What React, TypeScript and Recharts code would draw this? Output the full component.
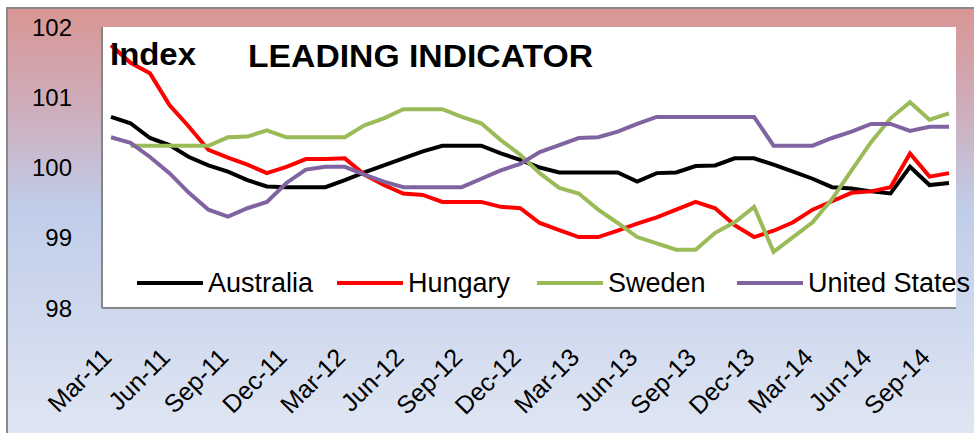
import { LineChart, Line, XAxis, YAxis, CartesianGrid, Legend } from "recharts";

const FONT = '"Liberation Sans", Arial, sans-serif';

const months = [
  "Mar-11", "Apr-11", "May-11", "Jun-11", "Jul-11", "Aug-11", "Sep-11", "Oct-11", "Nov-11", "Dec-11",
  "Jan-12", "Feb-12", "Mar-12", "Apr-12", "May-12", "Jun-12", "Jul-12", "Aug-12", "Sep-12", "Oct-12",
  "Nov-12", "Dec-12", "Jan-13", "Feb-13", "Mar-13", "Apr-13", "May-13", "Jun-13", "Jul-13", "Aug-13",
  "Sep-13", "Oct-13", "Nov-13", "Dec-13", "Jan-14", "Feb-14", "Mar-14", "Apr-14", "May-14", "Jun-14",
  "Jul-14", "Aug-14", "Sep-14", "Oct-14",
];

const australia = [
  100.72, 100.63, 100.42, 100.32, 100.15, 100.03, 99.94, 99.82, 99.73, 99.72,
  99.72, 99.72, 99.82, 99.93, 100.03, 100.13, 100.23, 100.31, 100.31, 100.31,
  100.2, 100.11, 100.0, 99.93, 99.93, 99.93, 99.93, 99.8, 99.92, 99.93,
  100.02, 100.03, 100.13, 100.13, 100.04, 99.94, 99.84, 99.72, 99.7, 99.66,
  99.63, 100.01, 99.75, 99.78,
];

const hungary = [
  101.74, 101.49, 101.34, 100.89, 100.58, 100.25, 100.14, 100.04, 99.92, 100.01,
  100.12, 100.12, 100.13, 99.9, 99.75, 99.63, 99.61, 99.51, 99.51, 99.51,
  99.44, 99.42, 99.21, 99.11, 99.01, 99.01, 99.1, 99.2, 99.29, 99.4,
  99.51, 99.42, 99.18, 99.01, 99.1, 99.22, 99.4, 99.52, 99.64, 99.66,
  99.72, 100.2, 99.87, 99.92,
];

const sweden = [
  null, 100.31, 100.31, 100.31, 100.31, 100.31, 100.43, 100.44, 100.53, 100.43,
  100.43, 100.43, 100.43, 100.6, 100.7, 100.83, 100.83, 100.83, 100.72, 100.63,
  100.39, 100.18, 99.92, 99.71, 99.63, 99.4, 99.21, 99.01, 98.92, 98.83,
  98.83, 99.07, 99.22, 99.44, 98.8, 99.01, 99.22, 99.55, 99.96, 100.36,
  100.7, 100.93, 100.68, 100.77,
];

const unitedStates = [
  100.43, 100.35, 100.15, 99.92, 99.64, 99.4, 99.3, 99.42, 99.51, 99.78,
  99.97, 100.01, 100.01, 99.9, 99.8, 99.72, 99.72, 99.72, 99.72, 99.84,
  99.96, 100.05, 100.22, 100.32, 100.42, 100.43, 100.51, 100.62, 100.72, 100.72,
  100.72, 100.72, 100.72, 100.72, 100.31, 100.31, 100.31, 100.42, 100.51, 100.62,
  100.62, 100.52, 100.58, 100.58,
];

const yTicks = [98, 99, 100, 101, 102];

const SERIES = [
  { key: "australia", name: "Australia", color: "#000000" },
  { key: "hungary", name: "Hungary", color: "#ff0000" },
  { key: "sweden", name: "Sweden", color: "#9bbb59" },
  { key: "us", name: "United States", color: "#8064a2" },
];

const rows = months.map((m, i) => ({
  month: m,
  australia: australia[i],
  hungary: hungary[i],
  sweden: sweden[i],
  us: unitedStates[i],
}));

function MonthTick(props: any) {
  const { x, y, payload } = props;
  return (
    <g transform={`translate(${x + 2},${y + 51})`}>
      <text textAnchor="end" transform="rotate(-45)" fontSize={25} fill="#000" fontFamily={FONT}>
        {payload.value}
      </text>
    </g>
  );
}

function LegendRow(props: any) {
  const items = props.payload || [];
  return (
    <div style={{ position: "relative", width: 974, height: 40, fontFamily: FONT }}>
      {items.map((it: any, i: number) => (
        <div
          key={it.value}
          style={{ position: "absolute", left: 137 + i * 200, top: 0, height: 40, display: "flex", alignItems: "center" }}
        >
          <div style={{ width: 66, height: 4, background: it.color, marginRight: 5 }} />
          <span style={{ fontSize: 27, color: "#000", whiteSpace: "nowrap" }}>{it.value}</span>
        </div>
      ))}
    </div>
  );
}

export default function App() {
  return (
    <div style={{ position: "absolute", left: 0, top: 0, width: 974, height: 433, background: "#fff", overflow: "hidden" }}>
      <div
        style={{
          position: "absolute", left: 6, top: 7, width: 968, height: 426, boxSizing: "border-box",
          borderLeft: "2px solid #8a8a8a", borderTop: "2px solid #8a8a8a",
          background: "linear-gradient(to bottom, #d99694 0%, #cdb0c0 26%, #c0cde9 47%, #dfe6f3 100%)",
        }}
      />
      <div style={{ position: "absolute", left: 0, top: 0 }}>
        <LineChart width={974} height={433} data={rows} margin={{ top: 27, right: 18, bottom: 25, left: 42 }}>
          <CartesianGrid horizontal={false} vertical={false} fill="#ffffff" />
          <XAxis
            dataKey="month"
            interval={2}
            height={100}
            padding={{ left: 9, right: 7 }}
            tick={<MonthTick />}
            tickLine={false}
            tickSize={0}
            tickMargin={0}
            axisLine={{ stroke: "#868686", strokeWidth: 2 }}
          />
          <YAxis
            domain={[98, 102]}
            ticks={yTicks}
            width={60}
            tickLine={false}
            tickSize={0}
            tickMargin={30}
            axisLine={{ stroke: "#868686", strokeWidth: 2 }}
            tick={{ fontSize: 24, fill: "#000", fontFamily: FONT }}
          />
          <Legend
            layout="horizontal"
            verticalAlign="middle"
            align="center"
            content={<LegendRow />}
            wrapperStyle={{ position: "absolute", left: 0, top: 263, width: 974, height: 40 }}
          />
          {SERIES.map((s) => (
            <Line
              key={s.key}
              type="linear"
              dataKey={s.key}
              name={s.name}
              stroke={s.color}
              strokeWidth={4}
              dot={false}
              activeDot={false}
              isAnimationActive={false}
            />
          ))}
        </LineChart>
      </div>
      <svg width={974} height={433} style={{ position: "absolute", left: 0, top: 0, pointerEvents: "none" }}>
        <text x={110} y={65} fontSize={32} fontWeight="bold" fontFamily={FONT} textLength={86} lengthAdjust="spacingAndGlyphs">
          Index
        </text>
        <text x={248} y={67} fontSize={31} fontWeight="bold" fontFamily={FONT} textLength={345} lengthAdjust="spacingAndGlyphs">
          LEADING INDICATOR
        </text>
      </svg>
    </div>
  );
}
